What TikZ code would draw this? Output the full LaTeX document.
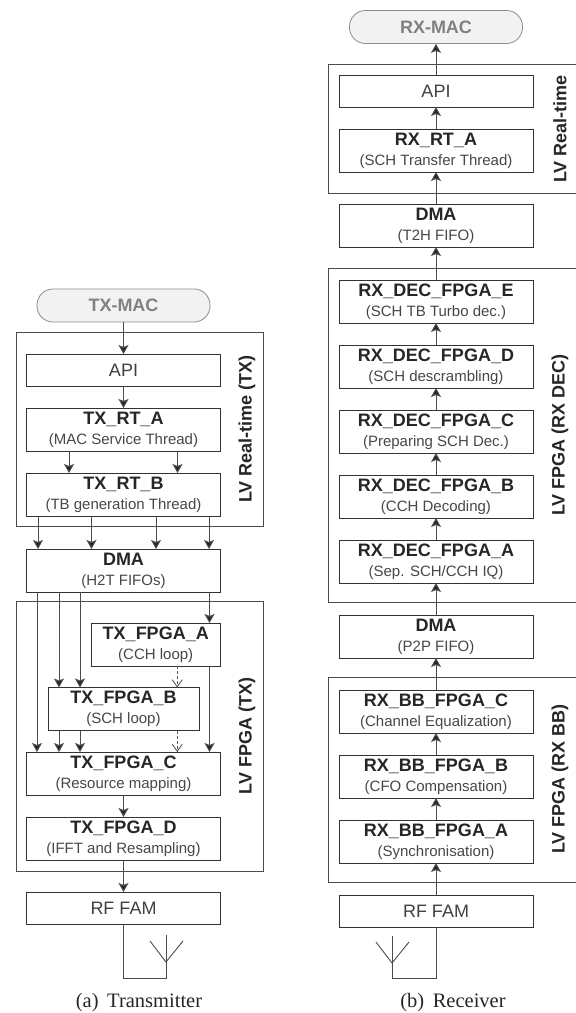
\documentclass[tikz,border=0pt]{standalone}
\usepackage{fontspec}
\setmainfont{Liberation Sans}
\newfontfamily\captionfont{Liberation Serif}
\usepackage{xcolor}
\usetikzlibrary{arrows.meta, positioning}
\newcommand{\subfont}{\fontsize{15}{20}\selectfont\color{black!72}}

\begin{document}
\begin{tikzpicture}[
    x=1pt, y=-1pt,
    node distance=22pt,
    block/.style={
        rectangle,
        draw=black!80,
        line width=1pt,
        fill=white,
        text=black!85,
        font=\fontsize{18}{20}\selectfont,
        align=center,
        inner sep=0pt,
        outer sep=0pt,
        minimum width=194pt,
        minimum height=43pt
    },
    thinblock/.style={block, minimum height=32pt, text=black!75},
    mac/.style={
        rectangle,
        draw=black!45,
        line width=0.8pt,
        fill=black!5,
        text=black!50,
        font=\fontsize{18}{20}\selectfont\bfseries,
        rounded corners=16pt,
        inner sep=0pt,
        minimum width=173pt,
        minimum height=33pt
    },
    group/.style={
        rectangle,
        draw=black!70,
        line width=1pt,
        inner sep=0pt,
        outer sep=0pt
    },
    grouplabel/.style={
        rotate=90,
        text=black!85,
        font=\fontsize{18}{20}\selectfont\bfseries
    },
    subcaption/.style={
        text=black!85,
        font=\captionfont\fontsize{20.5}{24}\selectfont
    },
    flow/.style={-{Stealth[length=9pt,width=10pt,inset=2pt,fill=black!85]}, line width=1pt, draw=black!70},
    loopflow/.style={-{Straight Barb[length=7pt,width=10pt]}, line width=0.9pt, draw=black!65, densely dashed},
    wire/.style={line width=1pt, draw=black!70}
]
\useasboundingbox (0,0) rectangle (576,1013);

% The transmitter
\node[group, minimum width=247pt, minimum height=194pt] (txrt) at (139.5,429) {};
\node[group, minimum width=247pt, minimum height=270pt] (txfpga) at (139.5,736) {};
\node[mac] (txmac) at (123.5,305.5) {TX-MAC};
\node[thinblock] (txapi) at (123.5,370) {API};
\node[block, below=of txapi] (txrta) {\textbf{TX\_RT\_A}\\{\subfont(MAC Service Thread)}};
\node[block, below=of txrta] (txrtb) {\textbf{TX\_RT\_B}\\{\subfont(TB generation Thread)}};
\node[block, below=33pt of txrtb] (txdma) {\textbf{DMA}\\{\subfont(H2T FIFOs)}};
\node[block, minimum width=129.5pt] (txfpgaa) at (155.75,644.5) {\textbf{TX\_FPGA\_A}\\{\subfont(CCH loop)}};
\node[block, minimum width=151pt] (txfpgab) at (123.5,709) {\textbf{TX\_FPGA\_B}\\{\subfont(SCH loop)}};
\node[block] (txfpgac) at (123.5,773.5) {\textbf{TX\_FPGA\_C}\\{\subfont(Resource mapping)}};
\node[block, below=of txfpgac] (txfpgad) {\textbf{TX\_FPGA\_D}\\{\subfont(IFFT and Resampling)}};
\node[thinblock, below=32pt of txfpgad] (txrf) {RF FAM};
\node[grouplabel] (txrtlabel) at (247,429) {LV Real-time (TX)};
\node[grouplabel] (txfpgalabel) at (247,736) {LV FPGA (TX)};
\node[subcaption] (txcaption) at (139,1003) {(a)\, Transmitter};

\draw[flow] (txmac) -- (txapi);
\draw[flow] (txapi) -- (txrta);
\foreach \dx in {-54.5,54} {
    \draw[flow] ([xshift=\dx pt]txrta.south) -- ([xshift=\dx pt]txrtb.north);
}
\foreach \dx in {-85.5,-32,32.5,85.5} {
    \draw[flow] ([xshift=\dx pt]txrtb.south) -- ([xshift=\dx pt]txdma.north);
}
\draw[flow] ([xshift=-86.5pt]txdma.south) -- ([xshift=-86.5pt]txfpgac.north);
\foreach \dx in {-64.5,-43.5} {
    \draw[flow] ([xshift=\dx pt]txdma.south) -- ([xshift=\dx pt]txfpgab.north);
    \draw[flow] ([xshift=\dx pt]txfpgab.south) -- ([xshift=\dx pt]txfpgac.north);
}
\draw[flow] ([xshift=86pt]txdma.south) -- ([xshift=53.75pt]txfpgaa.north);
\draw[flow] ([xshift=53.75pt]txfpgaa.south) -- ([xshift=86pt]txfpgac.north);
\draw[loopflow] ([xshift=21.5pt]txfpgaa.south) -- ([xshift=53.75pt]txfpgab.north);
\draw[loopflow] ([xshift=53.75pt]txfpgab.south) -- ([xshift=53.75pt]txfpgac.north);
\draw[flow] (txfpgac) -- (txfpgad);
\draw[flow] (txfpgad) -- (txrf);

% Transmit antenna
\coordinate (txfoot) at (123.5,978);
\coordinate (txfeed) at (166,962);
\coordinate (txtip) at (166,935);
\coordinate (txleft) at (150,941);
\coordinate (txright) at (183,941);
\draw[wire] (txrf.south) -- (txfoot) -| (txtip);
\draw[wire, line width=0.9pt] (txleft) -- (txfeed) -- (txright);

% The receiver
\draw[group] (576,64) -| (328,193) -- (576,193);
\draw[group] (576,268) -| (328,602) -- (576,602);
\draw[group] (576,677) -| (328,882) -- (576,882);
\node[mac] (rxmac) at (436,27) {RX-MAC};
\node[thinblock] (rxapi) at (436,91) {API};
\node[block, below=of rxapi] (rxrta) {\textbf{RX\_RT\_A}\\{\subfont(SCH Transfer Thread)}};
\node[block, below=32pt of rxrta] (rxdmat) {\textbf{DMA}\\{\subfont(T2H FIFO)}};
\node[block, below=33pt of rxdmat] (rxdece) {\textbf{RX\_DEC\_FPGA\_E}\\{\subfont(SCH TB Turbo dec.)}};
\node[block, below=of rxdece] (rxdecd) {\textbf{RX\_DEC\_FPGA\_D}\\{\subfont(SCH descrambling)}};
\node[block, below=of rxdecd] (rxdecc) {\textbf{RX\_DEC\_FPGA\_C}\\{\subfont(Preparing SCH Dec.)}};
\node[block, below=of rxdecc] (rxdecb) {\textbf{RX\_DEC\_FPGA\_B}\\{\subfont(CCH Decoding)}};
\node[block, below=of rxdecb] (rxdeca) {\textbf{RX\_DEC\_FPGA\_A}\\{\subfont(Sep. SCH/CCH IQ)}};
\node[block, below=32pt of rxdeca] (rxdmap) {\textbf{DMA}\\{\subfont(P2P FIFO)}};
\node[block, below=32pt of rxdmap] (rxbbc) {\textbf{RX\_BB\_FPGA\_C}\\{\subfont(Channel Equalization)}};
\node[block, below=of rxbbc] (rxbbb) {\textbf{RX\_BB\_FPGA\_B}\\{\subfont(CFO Compensation)}};
\node[block, below=of rxbbb] (rxbba) {\textbf{RX\_BB\_FPGA\_A}\\{\subfont(Synchronisation)}};
\node[thinblock, below=32pt of rxbba] (rxrf) {RF FAM};
\node[grouplabel] (rxrtlabel) at (560,129) {LV Real-time};
\node[grouplabel] (rxdeclabel) at (560,435) {LV FPGA (RX DEC)};
\node[grouplabel] (rxbblabel) at (560,779) {LV FPGA (RX BB)};
\node[subcaption] (rxcaption) at (453,1003) {(b)\, Receiver};

\draw[flow] (rxrf) -- (rxbba);
\draw[flow] (rxbba) -- (rxbbb);
\draw[flow] (rxbbb) -- (rxbbc);
\draw[flow] (rxbbc) -- (rxdmap);
\draw[flow] (rxdmap) -- (rxdeca);
\draw[flow] (rxdeca) -- (rxdecb);
\draw[flow] (rxdecb) -- (rxdecc);
\draw[flow] (rxdecc) -- (rxdecd);
\draw[flow] (rxdecd) -- (rxdece);
\draw[flow] (rxdece) -- (rxdmat);
\draw[flow] (rxdmat) -- (rxrta);
\draw[flow] (rxrta) -- (rxapi);
\draw[flow] (rxapi) -- (rxmac);

% Receive antenna
\coordinate (rxfoot) at (436,978);
\coordinate (rxfeed) at (392,963);
\coordinate (rxtip) at (392,936);
\coordinate (rxleft) at (376,942);
\coordinate (rxright) at (409,942);
\draw[wire] (rxrf.south) -- (rxfoot) -| (rxtip);
\draw[wire, line width=0.9pt] (rxleft) -- (rxfeed) -- (rxright);

\end{tikzpicture}
\end{document}
